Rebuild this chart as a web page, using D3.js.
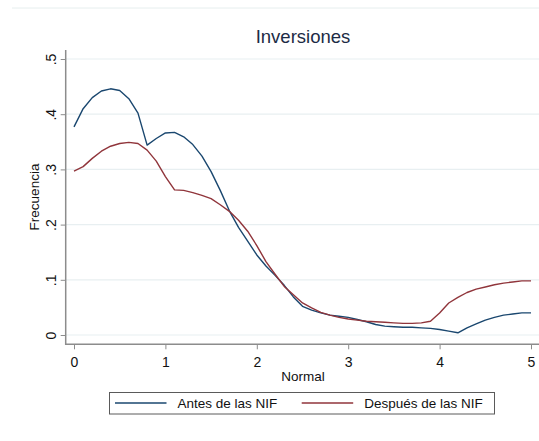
<!DOCTYPE html>
<html>
<head>
<meta charset="utf-8">
<script src="https://cdn.jsdelivr.net/npm/d3@7"></script>
<style>
  body { margin: 0; background: #fff; }
  text { font-family: Arial, "Liberation Sans", sans-serif; }
</style>
</head>
<body>
<div id="chart"></div>
<script>
// data (kernel density, x step 0.1)
var xValues = d3.range(0, 51).map(function(i) { return i / 10; });
var antes = [0.377, 0.410, 0.430, 0.442, 0.446, 0.443, 0.428, 0.402, 0.344, 0.356,
             0.366, 0.367, 0.359, 0.345, 0.324, 0.296, 0.262, 0.225, 0.195, 0.170,
             0.145, 0.125, 0.108, 0.090, 0.069, 0.052, 0.045, 0.040, 0.036, 0.034,
             0.032, 0.028, 0.024, 0.019, 0.016, 0.015, 0.014, 0.014, 0.013, 0.012,
             0.010, 0.007, 0.004, 0.013, 0.020, 0.027, 0.032, 0.036, 0.038, 0.040,
             0.040];
var despues = [0.297, 0.305, 0.320, 0.333, 0.342, 0.347, 0.349, 0.347, 0.335, 0.315,
               0.287, 0.263, 0.262, 0.258, 0.253, 0.247, 0.236, 0.224, 0.208, 0.188,
               0.162, 0.133, 0.110, 0.088, 0.073, 0.058, 0.049, 0.041, 0.036, 0.032,
               0.029, 0.027, 0.025, 0.024, 0.023, 0.022, 0.021, 0.021, 0.022, 0.025,
               0.040, 0.058, 0.068, 0.077, 0.083, 0.087, 0.091, 0.094, 0.096, 0.098,
               0.098];
var xTicks = [0, 1, 2, 3, 4, 5];
var xTickLabels = ["0", "1", "2", "3", "4", "5"];
var yTicks = [0, 0.1, 0.2, 0.3, 0.4, 0.5];
var yTickLabels = ["0", ".1", ".2", ".3", ".4", ".5"];
var seriesNames = ["Antes de las NIF", "Después de las NIF"];
var seriesColors = ["#1a476f", "#90353b"];

var W = 539, H = 441;
var svg = d3.select("#chart").append("svg")
    .attr("width", W)
    .attr("height", H);

var x = d3.scaleLinear().domain([0, 5]).range([74, 531]);
var y = d3.scaleLinear().domain([0, 0.5]).range([335, 59]);

// outer graph border (top edge only visible)
svg.append("line")
    .attr("x1", 12).attr("x2", W)
    .attr("y1", 8).attr("y2", 8)
    .attr("stroke", "#e6eeee").attr("stroke-width", 1);

// gridlines
svg.append("g").selectAll("line")
    .data(yTicks)
    .enter().append("line")
    .attr("x1", 66).attr("x2", W)
    .attr("y1", function(d) { return y(d); })
    .attr("y2", function(d) { return y(d); })
    .attr("stroke", "#e8eff1")
    .attr("stroke-width", 1.2);

// y axis
var yAxis = svg.append("g")
    .attr("transform", "translate(65.7,0)")
    .call(d3.axisLeft(y).tickValues(yTicks).tickSize(5).tickSizeOuter(0)
      .tickFormat(function(d, i) { return yTickLabels[i]; }));
yAxis.select(".domain").remove();
yAxis.append("line")
    .attr("x1", 0).attr("x2", 0)
    .attr("y1", 50).attr("y2", 345)
    .attr("stroke", "#8c8c8c").attr("stroke-width", 1.5);
yAxis.selectAll(".tick line").attr("stroke", "#8c8c8c");
yAxis.selectAll(".tick text")
    .attr("x", null).attr("dy", null)
    .attr("transform", "translate(-10,0) rotate(-90)")
    .attr("text-anchor", "middle")
    .style("font-size", "14px")
    .style("font-family", "Arial, 'Liberation Sans', sans-serif")
    .attr("fill", "#111");

// x axis
var xAxis = svg.append("g")
    .attr("transform", "translate(0,344.3)")
    .call(d3.axisBottom(x).tickValues(xTicks).tickSize(5).tickSizeOuter(0)
      .tickFormat(function(d, i) { return xTickLabels[i]; }));
xAxis.select(".domain").remove();
xAxis.append("line")
    .attr("x1", 65).attr("x2", W)
    .attr("y1", 0).attr("y2", 0)
    .attr("stroke", "#8c8c8c").attr("stroke-width", 1.5);
xAxis.selectAll(".tick line").attr("stroke", "#8c8c8c");
xAxis.selectAll(".tick text")
    .attr("y", 23).attr("dy", null)
    .style("font-size", "14px")
    .style("font-family", "Arial, 'Liberation Sans', sans-serif")
    .attr("fill", "#111");

// lines
var line = d3.line()
    .x(function(d) { return x(d[0]); })
    .y(function(d) { return y(d[1]); });

[antes, despues].forEach(function(vals, i) {
  svg.append("path")
      .datum(xValues.map(function(v, j) { return [v, vals[j]]; }))
      .attr("fill", "none")
      .attr("stroke", seriesColors[i])
      .attr("stroke-width", 1.4)
      .attr("stroke-linejoin", "round")
      .attr("d", line);
});

// titles
svg.append("text")
    .attr("x", 303).attr("y", 43)
    .attr("text-anchor", "middle")
    .style("font-size", "18.5px")
    .attr("fill", "#1c2b45")
    .text("Inversiones");

svg.append("text")
    .attr("x", 303).attr("y", 381)
    .attr("text-anchor", "middle")
    .style("font-size", "13.5px")
    .attr("fill", "#111")
    .text("Normal");

svg.append("text")
    .attr("transform", "translate(39,197) rotate(-90)")
    .attr("text-anchor", "middle")
    .style("font-size", "13.5px")
    .attr("fill", "#111")
    .text("Frecuencia");

// legend
var legend = svg.append("g");
legend.append("rect")
    .attr("x", 109.5).attr("y", 392.5)
    .attr("width", 385).attr("height", 21.5)
    .attr("fill", "#fff")
    .attr("stroke", "#5a5a5a").attr("stroke-width", 1);

var legendX = [115, 301.7];
for (var i = 0; i < 2; i++) {
  legend.append("line")
      .attr("x1", legendX[i]).attr("x2", legendX[i] + 51.5)
      .attr("y1", 403).attr("y2", 403)
      .attr("stroke", seriesColors[i]).attr("stroke-width", 1.4);
  legend.append("text")
      .attr("x", legendX[i] + 62.5).attr("y", 408)
      .style("font-size", "13.5px")
      .attr("fill", "#111")
      .text(seriesNames[i]);
}
</script>
</body>
</html>
